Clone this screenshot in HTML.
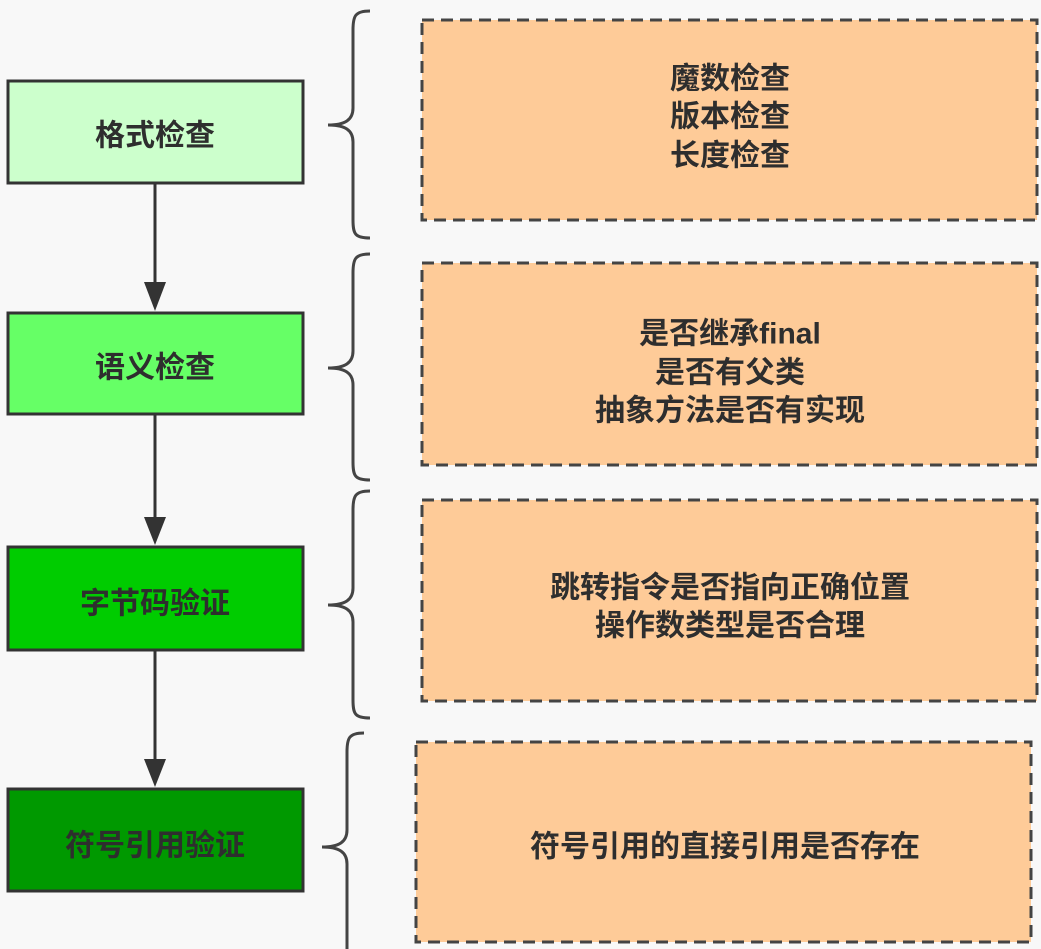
<!DOCTYPE html>
<html><head><meta charset="utf-8"><style>
html,body{margin:0;padding:0;background:#f8f8f8;}
svg{display:block}
text{font-family:"Liberation Sans","Noto Sans CJK SC",sans-serif;font-weight:bold;fill:#2e2e2e;text-anchor:middle;dominant-baseline:central;}
</style></head><body>
<svg width="1041" height="949" viewBox="0 0 1041 949" xmlns="http://www.w3.org/2000/svg">
<rect width="1041" height="949" fill="#f8f8f8"/>
<g stroke="#333" stroke-width="3">
<rect x="8" y="81" width="295" height="102" fill="#ccffcc"/>
<rect x="8" y="313" width="295" height="101" fill="#66ff66"/>
<rect x="8" y="547" width="295" height="103" fill="#00cc00"/>
<rect x="8" y="789" width="295" height="102" fill="#009900"/>
<line x1="155" y1="183" x2="155" y2="290"/>
<line x1="155" y1="414" x2="155" y2="525"/>
<line x1="155" y1="650" x2="155" y2="767"/>
</g>
<g fill="#333">
<polygon points="144,282 166,282 155,311"/>
<polygon points="144,517 166,517 155,545"/>
<polygon points="144,759 166,759 155,787"/>
</g>
<g fill="none" stroke="#444" stroke-width="3">
<path d="M370,11 C355,11 353,16 353,30 L353,108 C353,120 345,125 328,125 C345,125 353,130 353,142 L353,220 C353,234 355,238 370,238"/>
<path d="M370,254 C355,254 353,259 353,273 L353,351 C353,363 345,368 328,368 C345,368 353,373 353,385 L353,462 C353,476 355,480 370,480"/>
<path d="M370,491 C355,491 353,496 353,510 L353,588 C353,600 345,605 328,605 C345,605 353,610 353,622 L353,700 C353,714 355,718 370,718"/>
<path d="M364,733 C349,733 347,738 347,752 L347,830 C347,842 339,847 322,847 C339,847 347,852 347,864 L347,960"/>
</g>
<g fill="#fecb98" stroke="#444" stroke-width="3" stroke-dasharray="12,7">
<rect x="422" y="20" width="615" height="200"/>
<rect x="422" y="263" width="615" height="202"/>
<rect x="422" y="500" width="615" height="201"/>
<rect x="416" y="742" width="615" height="200"/>
</g>
<g font-size="30">
<text x="155" y="136">格式检查</text>
<text x="155" y="368">语义检查</text>
<text x="155" y="604">字节码验证</text>
<text x="155" y="846">符号引用验证</text>
<text x="730" y="79">魔数检查</text>
<text x="730" y="117">版本检查</text>
<text x="730" y="156">长度检查</text>
<text x="730" y="334">是否继承final</text>
<text x="730" y="373">是否有父类</text>
<text x="730" y="411">抽象方法是否有实现</text>
<text x="730" y="588">跳转指令是否指向正确位置</text>
<text x="730" y="626">操作数类型是否合理</text>
<text x="725" y="847">符号引用的直接引用是否存在</text>
</g>
</svg>
</body></html>
